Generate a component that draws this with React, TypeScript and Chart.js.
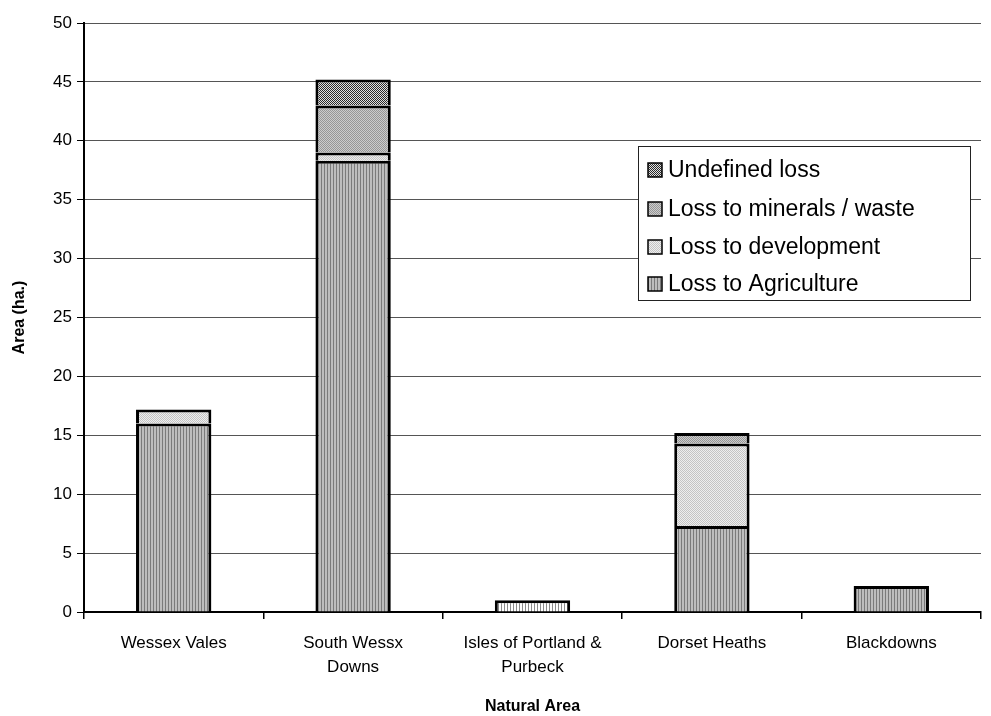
import React, { useEffect, useRef } from "react";
import { Chart, registerables } from "chart.js";

Chart.register(...registerables);

const categories = [
  "Wessex Vales",
  ["South Wessx", "Downs"],
  ["Isles of Portland &", "Purbeck"],
  "Dorset Heaths",
  "Blackdowns",
];
const agriculture = [16.0, 38.3, 1.0, 7.3, 2.2];
const development = [1.2, 0.7, 0, 7.0, 0];
const minerals = [0, 4.0, 0, 0.9, 0];
const undefinedLoss = [0, 2.2, 0, 0, 0];
const seriesNames = ["Loss to Agriculture", "Loss to development", "Loss to minerals / waste", "Undefined loss"];
const yTicks = [0, 5, 10, 15, 20, 25, 30, 35, 40, 45, 50];

const FONT = "'Liberation Sans', Arial, sans-serif";

function makePattern(kind: string): CanvasPattern | string {
  const c = document.createElement("canvas");
  const ctx = c.getContext("2d");
  if (!ctx) return "#bbb";
  if (kind === "stripes" || kind === "stripesLight") {
    c.width = 3; c.height = 3;
    ctx.fillStyle = kind === "stripes" ? "#bdbdbd" : "#ffffff";
    ctx.fillRect(0, 0, 3, 3);
    ctx.fillStyle = kind === "stripes" ? "#7a7a7a" : "#8a8a8a";
    ctx.fillRect(0, 0, 1, 3);
  } else if (kind === "dotsLight") {
    c.width = 2; c.height = 2;
    ctx.fillStyle = "#eeeeee"; ctx.fillRect(0, 0, 2, 2);
    ctx.fillStyle = "#c4c4c4"; ctx.fillRect(0, 0, 1, 1); ctx.fillRect(1, 1, 1, 1);
  } else if (kind === "dotsDark") {
    c.width = 2; c.height = 2;
    ctx.fillStyle = "#cccccc"; ctx.fillRect(0, 0, 2, 2);
    ctx.fillStyle = "#969696"; ctx.fillRect(0, 0, 1, 1); ctx.fillRect(1, 1, 1, 1);
  } else {
    c.width = 2; c.height = 2;
    ctx.fillStyle = "#e0e0e0"; ctx.fillRect(0, 0, 2, 2);
    ctx.fillStyle = "#2a2a2a"; ctx.fillRect(0, 0, 1, 1); ctx.fillRect(1, 1, 1, 1);
  }
  return ctx.createPattern(c, "repeat") || "#bbb";
}

export default function App() {
  const ref = useRef<HTMLCanvasElement | null>(null);
  useEffect(() => {
    if (!ref.current) return;
    const pStripes = makePattern("stripes");
    const pStripesLight = makePattern("stripesLight");
    const pDev = makePattern("dotsLight");
    const pMin = makePattern("dotsDark");
    const pUnd = makePattern("cross");
    const fills = [pStripes, pDev, pMin, pUnd];

    const legendPlugin = {
      id: "boxLegend",
      afterDraw(chart: any) {
        const ctx = chart.ctx;
        const x0 = 638, y0 = 146, w = 332, h = 154;
        ctx.save();
        ctx.fillStyle = "#fff";
        ctx.fillRect(x0, y0, w, h);
        ctx.strokeStyle = "#222";
        ctx.lineWidth = 1;
        ctx.strokeRect(x0 + 0.5, y0 + 0.5, w, h);
        const rows = [3, 2, 1, 0];
        const ys = [170, 209, 247, 284];
        ctx.font = "23px " + FONT;
        ctx.textBaseline = "middle";
        rows.forEach((si, i) => {
          const y = ys[i];
          ctx.fillStyle = fills[si];
          ctx.fillRect(648, y - 7, 14, 14);
          ctx.strokeStyle = "#000";
          ctx.lineWidth = 1.5;
          ctx.strokeRect(648, y - 7, 14, 14);
          ctx.fillStyle = "#000";
          ctx.fillText(seriesNames[si], 668, y + 1);
        });
        ctx.restore();
      },
    };

    const common = { borderColor: "#000", borderWidth: 3, barPercentage: 0.42, categoryPercentage: 1 };
    const chart = new Chart(ref.current, {
      type: "bar",
      data: {
        labels: categories as any,
        datasets: [
          { label: seriesNames[0], data: agriculture, backgroundColor: [pStripes, pStripes, pStripesLight, pStripes, pStripes] as any, ...common },
          { label: seriesNames[1], data: development, backgroundColor: pDev as any, ...common },
          { label: seriesNames[2], data: minerals, backgroundColor: pMin as any, ...common },
          { label: seriesNames[3], data: undefinedLoss, backgroundColor: pUnd as any, ...common },
        ],
      },
      options: {
        animation: false,
        responsive: false,
        maintainAspectRatio: false,
        devicePixelRatio: 1,
        layout: { padding: { top: 23, right: 10, left: 0, bottom: 0 } },
        plugins: { legend: { display: false }, tooltip: { enabled: false } },
        scales: {
          x: {
            stacked: true,
            afterFit(s: any) { s.height = 104; },
            grid: { display: true, drawOnChartArea: false, offset: true, tickLength: 7, color: "#000", lineWidth: 1.5 },
            border: { color: "#000", width: 2 },
            ticks: { color: "#000", font: { family: FONT, size: 17, lineHeight: 1.42 }, padding: 12, maxRotation: 0, autoSkip: false },
            title: { display: true, text: "Natural Area", color: "#000", font: { family: FONT, size: 16, weight: "bold" }, padding: { top: 19, bottom: 0 } },
          },
          y: {
            stacked: true,
            min: 0,
            max: 50,
            afterFit(s: any) { s.width = 84; },
            afterBuildTicks(s: any) { s.ticks = yTicks.map((v) => ({ value: v })); },
            grid: { color: "#555", lineWidth: 1, tickLength: 7, tickColor: "#000" },
            border: { color: "#000", width: 2 },
            ticks: { color: "#000", font: { family: FONT, size: 17 }, padding: 5 },
            title: { display: true, text: "Area (ha.)", color: "#000", font: { family: FONT, size: 16, weight: "bold" }, padding: { top: 10, bottom: 4 } },
          },
        },
      } as any,
      plugins: [legendPlugin],
    });
    return () => chart.destroy();
  }, []);
  return (
    <div style={{ position: "fixed", left: 0, top: 0, width: 991, height: 716, background: "#fff" }}>
      <canvas ref={ref} width={991} height={716} style={{ width: 991, height: 716 }} />
    </div>
  );
}
